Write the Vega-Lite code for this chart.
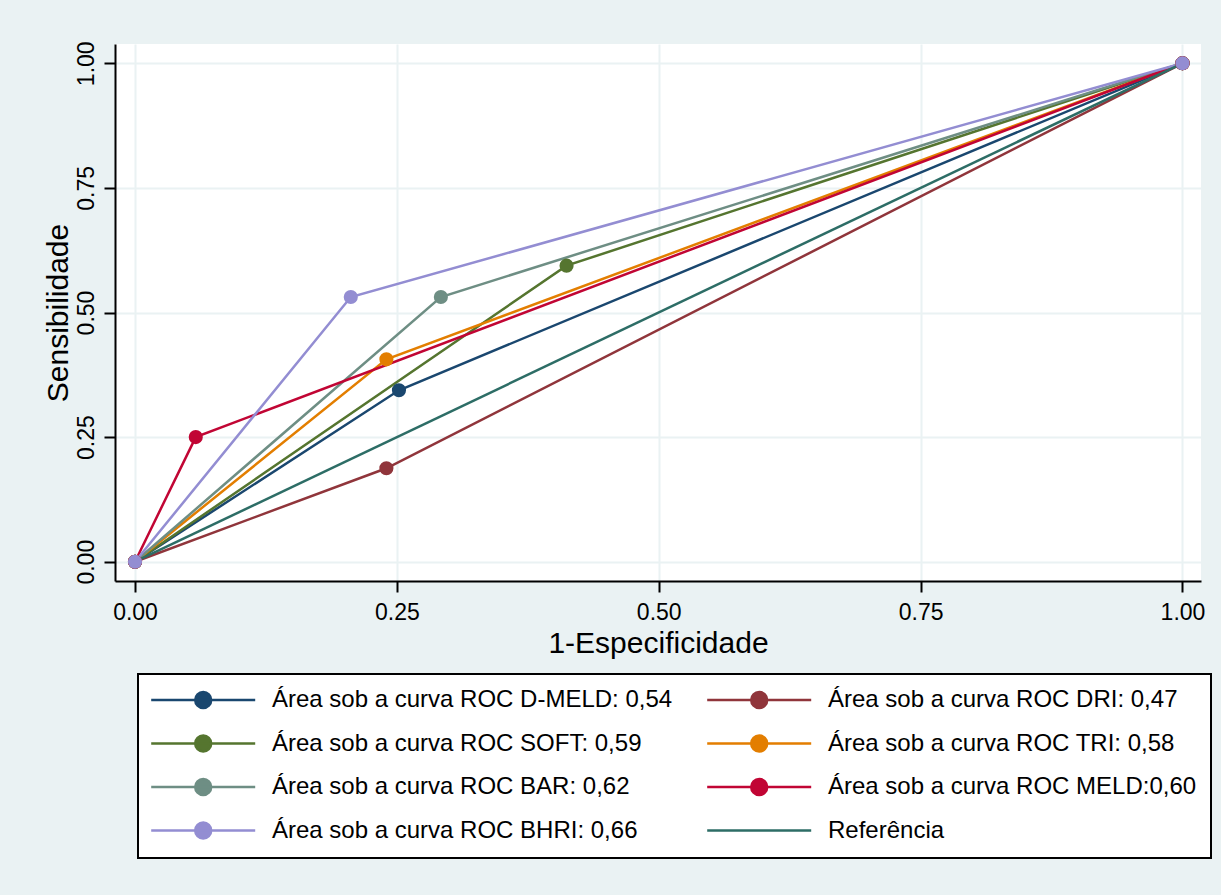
{
  "$schema": "https://vega.github.io/schema/vega-lite/v6.json",
  "autosize": {"type": "none"},
  "width": 1086,
  "height": 537,
  "padding": {"left": 115, "top": 44, "right": 20, "bottom": 314},
  "background": "#EAF2F3",
  "config": {
    "font": "Liberation Sans",
    "view": {"fill": "white", "stroke": null},
    "axis": {
      "domainColor": "black", "domainWidth": 2,
      "tickColor": "black", "tickWidth": 2, "tickSize": 11,
      "gridColor": "#EAF2F3", "gridWidth": 2, "gridOpacity": 1,
      "labelFont": "Liberation Sans", "labelFontSize": 23, "labelColor": "black",
      "titleFont": "Liberation Sans", "titleFontSize": 30, "titleFontWeight": "normal", "titleColor": "black"
    },
    "legend": {"symbolStrokeWidth": 2.5}
  },
  "data": {
    "values": [
      {"serie": "Área sob a curva ROC D-MELD: 0,54", "x": 0, "y": 0},
      {"serie": "Área sob a curva ROC D-MELD: 0,54", "x": 0.252, "y": 0.344},
      {"serie": "Área sob a curva ROC D-MELD: 0,54", "x": 1, "y": 1},
      {"serie": "Área sob a curva ROC DRI: 0,47", "x": 0, "y": 0},
      {"serie": "Área sob a curva ROC DRI: 0,47", "x": 0.240, "y": 0.1875},
      {"serie": "Área sob a curva ROC DRI: 0,47", "x": 1, "y": 1},
      {"serie": "Área sob a curva ROC SOFT: 0,59", "x": 0, "y": 0},
      {"serie": "Área sob a curva ROC SOFT: 0,59", "x": 0.412, "y": 0.594},
      {"serie": "Área sob a curva ROC SOFT: 0,59", "x": 1, "y": 1},
      {"serie": "Área sob a curva ROC TRI: 0,58", "x": 0, "y": 0},
      {"serie": "Área sob a curva ROC TRI: 0,58", "x": 0.240, "y": 0.406},
      {"serie": "Área sob a curva ROC TRI: 0,58", "x": 1, "y": 1},
      {"serie": "Área sob a curva ROC BAR: 0,62", "x": 0, "y": 0},
      {"serie": "Área sob a curva ROC BAR: 0,62", "x": 0.292, "y": 0.531},
      {"serie": "Área sob a curva ROC BAR: 0,62", "x": 1, "y": 1},
      {"serie": "Área sob a curva ROC MELD:0,60", "x": 0, "y": 0},
      {"serie": "Área sob a curva ROC MELD:0,60", "x": 0.058, "y": 0.25},
      {"serie": "Área sob a curva ROC MELD:0,60", "x": 1, "y": 1},
      {"serie": "Área sob a curva ROC BHRI: 0,66", "x": 0, "y": 0},
      {"serie": "Área sob a curva ROC BHRI: 0,66", "x": 0.206, "y": 0.531},
      {"serie": "Área sob a curva ROC BHRI: 0,66", "x": 1, "y": 1},
      {"serie": "Referência", "x": 0, "y": 0},
      {"serie": "Referência", "x": 1, "y": 1}
    ]
  },
  "encoding": {
    "x": {
      "field": "x", "type": "quantitative",
      "scale": {"domain": [-0.0191, 1.0177], "nice": false, "zero": false},
      "axis": {"values": [0, 0.25, 0.5, 0.75, 1], "format": ".2f", "title": "1-Especificidade", "labelPadding": 9, "titlePadding": 4, "labelFlush": false}
    },
    "y": {
      "field": "y", "type": "quantitative",
      "scale": {"domain": [-0.0387, 1.0387], "nice": false, "zero": false},
      "axis": {"values": [0, 0.25, 0.5, 0.75, 1], "format": ".2f", "title": "Sensibilidade", "labelAngle": -90, "labelAlign": "center", "labelBaseline": "bottom", "labelPadding": 6, "titlePadding": 2, "labelFlush": false}
    },
    "color": {
      "field": "serie", "type": "nominal",
      "scale": {
        "domain": [
          "Área sob a curva ROC D-MELD: 0,54", "Área sob a curva ROC SOFT: 0,59",
          "Área sob a curva ROC BAR: 0,62", "Área sob a curva ROC BHRI: 0,66",
          "Área sob a curva ROC DRI: 0,47", "Área sob a curva ROC TRI: 0,58",
          "Área sob a curva ROC MELD:0,60", "Referência"
        ],
        "range": ["#1A476F", "#55752F", "#6E8E84", "#938DD2", "#90353B", "#E37E00", "#C10534", "#2D6D66"]
      },
      "legend": {
        "title": null,
        "orient": "none",
        "legendX": 23,
        "legendY": 630,
        "direction": "vertical",
        "columns": 2,
        "columnPadding": 29,
        "rowPadding": 16.5,
        "padding": 14,
        "fillColor": "white",
        "strokeColor": "black",
        "symbolSize": 256,
        "labelOffset": 96,
        "labelFont": "Liberation Sans",
        "labelFontSize": 24,
        "labelColor": "black",
        "labelLimit": 600,
        "encode": {
          "symbols": {
            "update": {
              "shape": {"signal": "datum.value === 'Referência' ? 'M-1.6,0H11.4' : 'M-1.6,0H11.4M3.9,0A1,1 0 1,0 5.9,0A1,1 0 1,0 3.9,0Z'"},
              "fill": {"scale": "color", "field": "value"},
              "stroke": {"scale": "color", "field": "value"},
              "strokeWidth": {"value": 2.5},
              "opacity": {"value": 1}
            }
          },
          "legend": {"update": {"strokeWidth": {"value": 2}}}
        }
      }
    }
  },
  "layer": [
    {
      "transform": [{"filter": "datum.serie !== 'Referência'"}],
      "mark": {"type": "line", "strokeWidth": 2.5}
    },
    {
      "transform": [{"filter": "datum.serie === 'Referência'"}],
      "mark": {"type": "line", "strokeWidth": 2.5}
    },
    {
      "transform": [{"filter": "datum.serie !== 'Referência'"}],
      "mark": {"type": "point", "filled": true, "size": 200, "opacity": 1}
    }
  ]
}
